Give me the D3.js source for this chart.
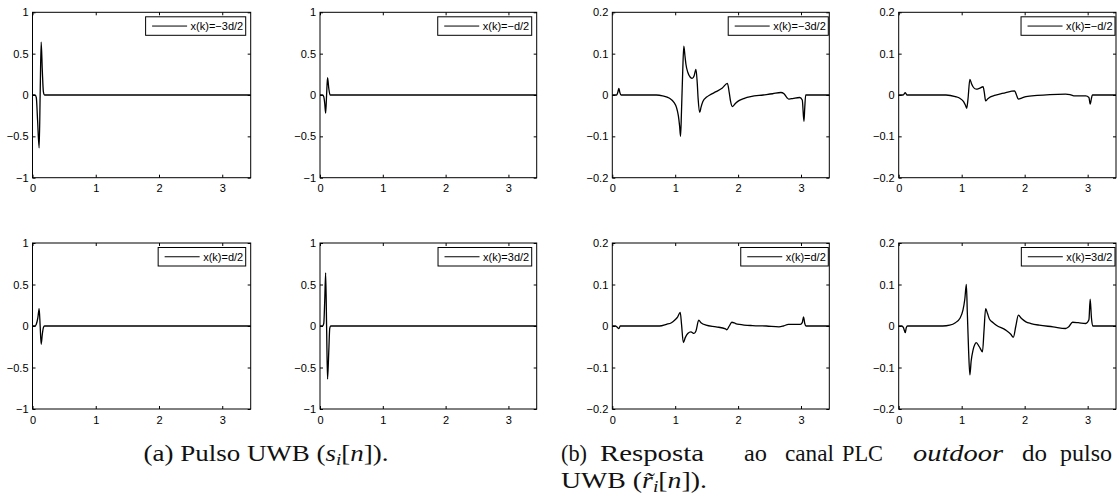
<!DOCTYPE html>
<html><head><meta charset="utf-8">
<script src="https://cdn.jsdelivr.net/npm/d3@7"></script>
<style>body{margin:0;background:#fff} svg{display:block}</style>
</head><body>
<svg id="chart" width="1119" height="500"></svg>
<script>
// ---------- data ----------
const xDomain = [0, 3.45];
const xTicks = [0, 1, 2, 3];
const yTicksPulse = [-1, -0.5, 0, 0.5, 1];
const yTicksResp = [-0.2, -0.1, 0, 0.1, 0.2];
const legendLabels = ["x(k)=\u22123d/2", "x(k)=\u2212d/2", "x(k)=d/2", "x(k)=3d/2"];

// UWB pulses s_i[n]
const pulseM3 = [[0,0],[0.04,0],[0.06,-0.03],[0.08,-0.3],[0.105,-0.64],[0.121,0],[0.137,0.64],[0.155,0.3],[0.172,0.04],[0.19,0],[3.45,0]];
const pulseM1 = [[0,0],[0.04,0],[0.06,-0.02],[0.075,-0.1],[0.09,-0.22],[0.105,0],[0.12,0.21],[0.14,0.08],[0.16,0],[3.45,0]];
const pulseP1 = [[0,0],[0.04,0],[0.06,0.02],[0.085,0.1],[0.105,0.21],[0.121,0],[0.137,-0.22],[0.155,-0.1],[0.172,-0.02],[0.19,0],[3.45,0]];
const pulseP3 = [[0,0],[0.04,0],[0.06,0.03],[0.075,0.3],[0.09,0.64],[0.105,0],[0.12,-0.64],[0.14,-0.3],[0.155,-0.03],[0.17,0],[3.45,0]];

// Outdoor PLC channel responses r~_i[n]
const respM3 = [[0,0],[0.07,0],[0.09,0.008],[0.105,0.016],[0.12,0.006],[0.14,0],[0.7,0],[0.8,-0.002],[0.91,-0.008],[0.98,-0.018],[1.02,-0.03],[1.05,-0.05],[1.07,-0.075],[1.085,-0.1],[1.1,-0.04],[1.12,0.06],[1.137,0.118],[1.155,0.095],[1.17,0.075],[1.2,0.055],[1.24,0.043],[1.27,0.04],[1.3,0.046],[1.33,0.062],[1.35,0.03],[1.365,-0.01],[1.39,-0.042],[1.41,-0.03],[1.44,-0.016],[1.5,-0.005],[1.55,0],[1.65,0.008],[1.75,0.017],[1.83,0.028],[1.86,0.005],[1.88,-0.015],[1.91,-0.028],[1.96,-0.02],[2.02,-0.013],[2.1,-0.008],[2.2,-0.004],[2.4,0],[2.55,0.003],[2.68,0.006],[2.73,0.003],[2.78,-0.007],[2.81,-0.01],[2.88,-0.008],[2.98,-0.006],[3.02,-0.012],[3.047,-0.064],[3.06,-0.03],[3.075,0],[3.45,0]];
const respM1 = [[0,0],[0.07,0],[0.105,0.0056],[0.13,0],[0.75,0],[0.9,-0.004],[0.97,-0.008],[1.03,-0.016],[1.06,-0.025],[1.08,-0.032],[1.1,-0.01],[1.13,0.038],[1.155,0.028],[1.18,0.02],[1.23,0.014],[1.28,0.016],[1.34,0.02],[1.36,0.005],[1.38,-0.014],[1.41,-0.01],[1.44,-0.006],[1.52,-0.001],[1.6,0.002],[1.7,0.006],[1.84,0.01],[1.87,0],[1.9,-0.01],[1.96,-0.007],[2.02,-0.004],[2.2,-0.001],[2.4,0.001],[2.65,0.002],[2.72,0.001],[2.78,-0.002],[2.97,-0.002],[3.02,-0.006],[3.04,-0.022],[3.06,-0.008],[3.075,0],[3.45,0]];
const respP1 = [[0,0],[0.05,0],[0.07,-0.002],[0.105,-0.0064],[0.125,0],[0.75,0],[0.86,0.004],[0.94,0.008],[0.99,0.014],[1.04,0.022],[1.08,0.033],[1.1,0.005],[1.13,-0.04],[1.16,-0.028],[1.2,-0.018],[1.25,-0.014],[1.3,-0.018],[1.33,-0.012],[1.374,0.014],[1.41,0.008],[1.49,0.002],[1.65,-0.002],[1.8,-0.007],[1.82,-0.009],[1.86,0],[1.9,0.009],[1.96,0.006],[2.02,0.004],[2.23,0.001],[2.45,0],[2.65,-0.002],[2.72,0],[2.8,0.004],[2.99,0.004],[3.02,0.008],[3.04,0.022],[3.06,0.006],[3.08,0],[3.45,0]];
const respP3 = [[0,0],[0.05,0],[0.075,-0.004],[0.105,-0.016],[0.12,-0.004],[0.14,0],[0.7,0],[0.81,0.002],[0.9,0.008],[0.97,0.018],[1.02,0.038],[1.05,0.065],[1.074,0.1],[1.09,0.03],[1.11,-0.06],[1.13,-0.118],[1.15,-0.085],[1.18,-0.058],[1.21,-0.044],[1.23,-0.04],[1.28,-0.05],[1.33,-0.062],[1.355,-0.01],[1.38,0.042],[1.41,0.03],[1.44,0.017],[1.5,0.008],[1.55,0.002],[1.7,-0.01],[1.78,-0.02],[1.82,-0.027],[1.86,0],[1.9,0.026],[1.95,0.018],[2.02,0.01],[2.1,0.006],[2.23,0.002],[2.45,-0.002],[2.65,-0.006],[2.7,-0.002],[2.76,0.009],[2.85,0.008],[2.97,0.006],[3.02,0.015],[3.04,0.065],[3.06,0.02],[3.08,0],[3.45,0]];

const panelSeries = [pulseM3, pulseM1, respM3, respM1, pulseP1, pulseP3, respP1, respP3];
const panelLegend = [0, 1, 0, 1, 2, 3, 2, 3];

// caption words
const capBWords = ["(b)", "Resposta", "ao", "canal", "PLC", "outdoor", "do", "pulso"];

// ---------- layout ----------
const colLeft  = [32.5, 320, 612.3, 898.7];
const colRight = [250.7, 536.7, 829.3, 1116];
const rowTop = [12.3, 243];
const rowBottom = [177.7, 409];

const svg = d3.select("#chart");
const tickFont = "'Liberation Sans', Arial, Helvetica, sans-serif";

panelSeries.forEach((series, i) => {
  const row = Math.floor(i / 4), col = i % 4;
  const isResp = col >= 2;
  const yDom = isResp ? [-0.2, 0.2] : [-1, 1];
  const yT = isResp ? yTicksResp : yTicksPulse;
  const L = colLeft[col], R = colRight[col], T = rowTop[row], B = rowBottom[row];
  const x = d3.scaleLinear().domain(xDomain).range([L, R]);
  const y = d3.scaleLinear().domain(yDom).range([B, T]);
  const g = svg.append("g");

  const fmt = v => d3.format("")(v);
  const ax = g.append("g").attr("transform", `translate(0,${B})`)
    .call(d3.axisBottom(x).tickValues(xTicks).tickSize(-3).tickPadding(7).tickFormat(fmt));
  const axT = g.append("g").attr("transform", `translate(0,${T})`)
    .call(d3.axisTop(x).tickValues(xTicks).tickSize(-3).tickFormat(""));
  const ay = g.append("g").attr("transform", `translate(${L},0)`)
    .call(d3.axisLeft(y).tickValues(yT).tickSize(-3).tickPadding(4).tickFormat(fmt));
  const ayR = g.append("g").attr("transform", `translate(${R},0)`)
    .call(d3.axisRight(y).tickValues(yT).tickSize(-3).tickFormat(""));
  [ax, axT, ay, ayR].forEach(a => {
    a.select(".domain").remove();
    a.selectAll(".tick line").attr("stroke", "#000").attr("stroke-width", 1);
    a.selectAll("text").attr("font-family", tickFont).attr("font-size", 11).attr("fill", "#000");
  });
  ax.selectAll("text").attr("dy", "0.71em");

  g.append("rect").attr("x", L).attr("y", T).attr("width", R - L).attr("height", B - T)
    .attr("fill", "none").attr("stroke", "#000").attr("stroke-width", 1);

  const line = d3.line().x(d => x(d[0])).y(d => y(d[1])).curve(d3.curveMonotoneX);
  g.append("path").datum(series).attr("d", line)
    .attr("fill", "none").attr("stroke", "#000").attr("stroke-width", 1.3);

  // legend
  const inset = isResp ? 1 : 5;
  const lg = g.append("g");
  const txt = lg.append("text").text(legendLabels[panelLegend[i]])
    .attr("font-family", tickFont).attr("font-size", 11).attr("fill", "#000")
    .attr("dominant-baseline", "central");
  const tw = txt.node().getComputedTextLength();
  const padL = 6.5, lineLen = 35, gap = 3.5, padR = 2.5, h = 18.5;
  const w = padL + lineLen + gap + tw + padR;
  const lx = R - inset - w, ly = T + 4.5;
  lg.insert("rect", "text").attr("x", lx).attr("y", ly).attr("width", w).attr("height", h)
    .attr("fill", "#fff").attr("stroke", "#000").attr("stroke-width", 1);
  lg.append("line").attr("x1", lx + padL).attr("x2", lx + padL + lineLen)
    .attr("y1", ly + h / 2).attr("y2", ly + h / 2).attr("stroke", "#000").attr("stroke-width", 1);
  txt.attr("x", lx + padL + lineLen + gap).attr("y", ly + h / 2);
});

// ---------- captions ----------
const capFont = "'Liberation Serif', 'Times New Roman', serif";
const capSize = 24;
const capColor = "#111";
const capA = svg.append("text").attr("x", 143.5).attr("y", 461)
  .attr("font-family", capFont).attr("font-size", capSize).attr("fill", capColor);
capA.append("tspan").text("(a) Pulso UWB (");
capA.append("tspan").attr("font-style", "italic").text("s");
capA.append("tspan").attr("font-style", "italic").attr("font-size", capSize * 0.7).attr("dy", 4).text("i");
capA.append("tspan").attr("dy", -4).text("[");
capA.append("tspan").attr("font-style", "italic").text("n");
capA.append("tspan").text("]).");
capA.attr("textLength", 245).attr("lengthAdjust", "spacingAndGlyphs");

const capBX = [561, 600, 744, 785, 842, 913, 1022, 1060];
const capBW = [26, 104, 23, 49, 41, 90, 25, null];
capBWords.forEach((wd, k) => {
  const t = svg.append("text").attr("x", capBX[k]).attr("y", 460.5)
    .attr("font-family", capFont).attr("font-size", capSize).attr("fill", capColor)
    .attr("font-style", wd === "outdoor" ? "italic" : "normal").text(wd);
  if (capBW[k]) t.attr("textLength", capBW[k]).attr("lengthAdjust", "spacingAndGlyphs");
});
const capB2 = svg.append("text").attr("x", 561).attr("y", 488)
  .attr("font-family", capFont).attr("font-size", capSize).attr("fill", capColor);
capB2.append("tspan").text("UWB (");
capB2.append("tspan").attr("font-style", "italic").text("r\u0303");
capB2.append("tspan").attr("font-style", "italic").attr("font-size", capSize * 0.7).attr("dy", 4).text("i");
capB2.append("tspan").attr("dy", -4).text("[");
capB2.append("tspan").attr("font-style", "italic").text("n");
capB2.append("tspan").text("]).");
capB2.attr("textLength", 146).attr("lengthAdjust", "spacingAndGlyphs");
</script>
</body></html>
